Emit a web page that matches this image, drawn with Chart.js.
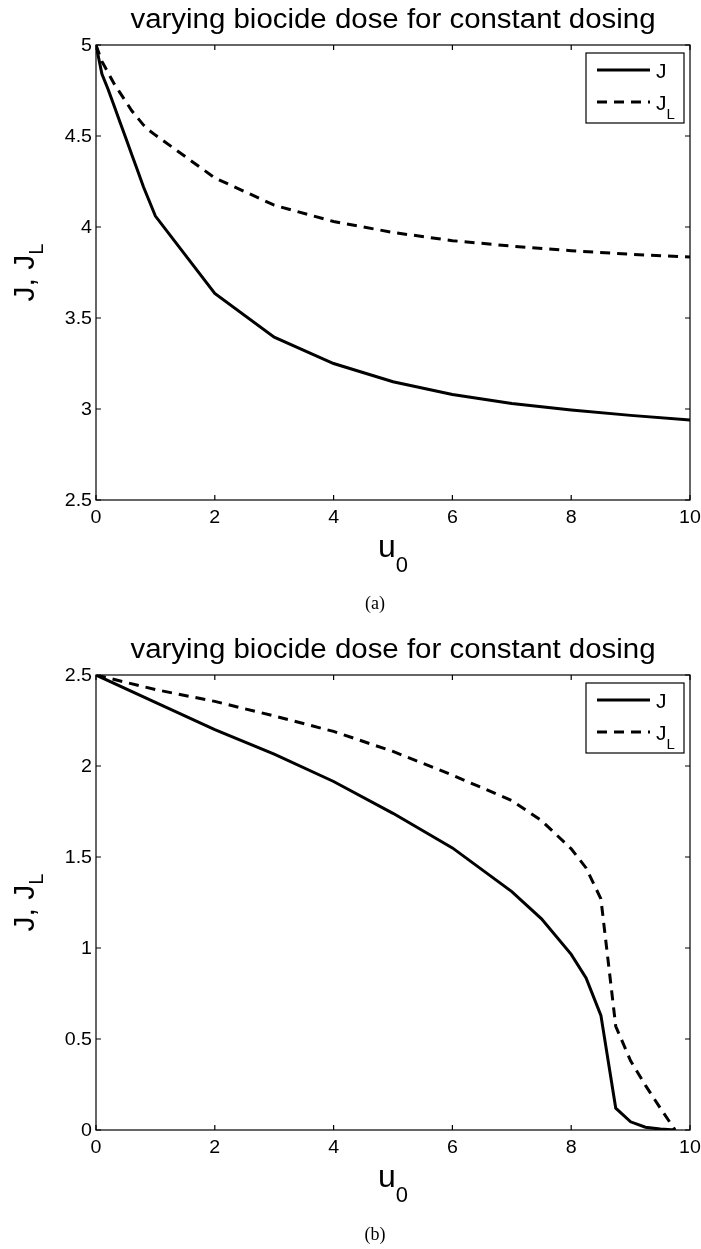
<!DOCTYPE html>
<html>
<head>
<meta charset="utf-8">
<script src="https://cdn.jsdelivr.net/npm/chart.js@4.4.0/dist/chart.umd.min.js"></script>
<style>
  body { margin: 0; background: #fff; width: 701px; height: 1249px; position: relative; overflow: hidden; }
  .panel { position: absolute; left: 0; width: 701px; }
  .cap { position: absolute; left: 0; width: 750px; text-align: center;
         font-family: "Liberation Serif", "DejaVu Serif", serif; font-size: 18px; color: #000; }
</style>
</head>
<body>
<div class="panel" style="top:0"><canvas id="chartA" width="701" height="630"></canvas></div>
<div class="panel" style="top:630px"><canvas id="chartB" width="701" height="619"></canvas></div>
<div class="cap" style="top:593px">(a)</div>
<div class="cap" style="top:1224px">(b)</div>
<script>
// panel (a): J and J_L against the dose u0
const doseA = [0, 0.1, 0.2, 0.3, 0.4, 0.5, 0.6, 0.7, 0.8, 0.9, 1, 2, 3, 4, 5, 6, 7, 8, 9, 10];
const jA    = [5.0, 4.84, 4.76, 4.67, 4.58, 4.49, 4.40, 4.31, 4.22, 4.14, 4.06, 3.635, 3.395, 3.25, 3.15, 3.08, 3.03, 2.995, 2.965, 2.94];
const jLA   = [5.0, 4.91, 4.85, 4.79, 4.74, 4.69, 4.64, 4.60, 4.56, 4.53, 4.505, 4.27, 4.12, 4.03, 3.97, 3.925, 3.895, 3.87, 3.85, 3.835];

// panel (b)
const doseB = [0, 1, 2, 3, 4, 5, 6, 7, 7.5, 8, 8.25, 8.5, 8.75, 9, 9.25, 9.5, 9.75];
const jB    = [2.5, 2.35, 2.20, 2.065, 1.915, 1.74, 1.55, 1.31, 1.16, 0.965, 0.835, 0.63, 0.12, 0.045, 0.015, 0.005, 0.0];
const jLB   = [2.5, 2.42, 2.355, 2.275, 2.19, 2.08, 1.95, 1.81, 1.70, 1.545, 1.44, 1.27, 0.57, 0.38, 0.245, 0.12, 0.0];

const titleText = 'varying biocide dose for constant dosing';
const xTicks = [0, 2, 4, 6, 8, 10];
const yTicksA = [2.5, 3, 3.5, 4, 4.5, 5];
const yTicksB = [0, 0.5, 1, 1.5, 2, 2.5];

const FONT = '"Liberation Sans", Arial, sans-serif';
const WIDE = 1.09;   // figure text is a little wider than it is tall

function toPoints(xs, ys) {
    return xs.map((x, i) => ({ x: x, y: ys[i] }));
}

function wideText(ctx, text, x, y, size, align) {
    ctx.save();
    ctx.translate(x, y);
    ctx.scale(WIDE, 1);
    ctx.font = size + 'px ' + FONT;
    ctx.textAlign = align;
    ctx.textBaseline = 'alphabetic';
    ctx.fillText(text, 0, 0);
    ctx.restore();
}

// text with a subscript, centred on (cx, baseline)
function drawSub(ctx, base, sub, cx, baseline, size, subSize, drop) {
    ctx.font = size + 'px ' + FONT;
    const w1 = ctx.measureText(base).width;
    ctx.font = subSize + 'px ' + FONT;
    const w2 = ctx.measureText(sub).width;
    let x = cx - (w1 + w2) / 2;
    ctx.textAlign = 'left';
    ctx.textBaseline = 'alphabetic';
    ctx.font = size + 'px ' + FONT;
    ctx.fillText(base, x, baseline);
    ctx.font = subSize + 'px ' + FONT;
    ctx.fillText(sub, x + w1, baseline + drop);
}

// box, inward ticks on all sides, tick labels, title, axis labels and legend
const framePlugin = {
    id: 'frame',
    afterDatasetsDraw(chart) {
        const ctx = chart.ctx;
        const a = chart.chartArea;
        const x = chart.scales.x, y = chart.scales.y;
        ctx.save();
        ctx.strokeStyle = '#000';
        ctx.fillStyle = '#000';
        ctx.lineWidth = 1.2;
        ctx.strokeRect(a.left, a.top, a.right - a.left, a.bottom - a.top);

        ctx.beginPath();
        x.ticks.forEach(t => {
            const px = x.getPixelForValue(t.value);
            ctx.moveTo(px, a.bottom); ctx.lineTo(px, a.bottom - 5);
            ctx.moveTo(px, a.top); ctx.lineTo(px, a.top + 5);
        });
        y.ticks.forEach(t => {
            const py = y.getPixelForValue(t.value);
            ctx.moveTo(a.left, py); ctx.lineTo(a.left + 5, py);
            ctx.moveTo(a.right, py); ctx.lineTo(a.right - 5, py);
        });
        ctx.stroke();

        x.ticks.forEach(t => {
            wideText(ctx, String(t.value), x.getPixelForValue(t.value), a.bottom + 23, 18, 'center');
        });
        y.ticks.forEach(t => {
            wideText(ctx, String(t.value), a.left - 4, y.getPixelForValue(t.value) + 6, 18, 'right');
        });

        const cx = (a.left + a.right) / 2;
        wideText(ctx, titleText, cx, 28, 27, 'center');

        drawSub(ctx, 'u', '0', cx, 557, 32, 22, 15);

        ctx.save();
        ctx.translate(34, (a.top + a.bottom) / 2);
        ctx.rotate(-Math.PI / 2);
        drawSub(ctx, 'J, J', 'L', 0, 0, 30, 20, 9);
        ctx.restore();

        // legend
        const lx = 586, lw = 98, ly = a.top + 8, lh = 70;
        ctx.fillStyle = '#fff';
        ctx.fillRect(lx, ly, lw, lh);
        ctx.fillStyle = '#000';
        ctx.lineWidth = 1.2;
        ctx.strokeRect(lx, ly, lw, lh);
        chart.data.datasets.forEach((ds, i) => {
            const ey = ly + 17 + i * 32;
            ctx.save();
            ctx.lineWidth = ds.borderWidth;
            ctx.setLineDash(ds.borderDash || []);
            ctx.beginPath();
            ctx.moveTo(lx + 11, ey);
            ctx.lineTo(lx + 64, ey);
            ctx.stroke();
            ctx.restore();
            ctx.font = '21px ' + FONT;
            ctx.textAlign = 'left';
            ctx.fillText(ds.label, lx + 70, ey + 8);
            if (ds.subLabel) {
                const w = ctx.measureText(ds.label).width;
                ctx.font = '15px ' + FONT;
                ctx.fillText(ds.subLabel, lx + 70 + w, ey + 17);
            }
        });
        ctx.restore();
    }
};

function createChart(id, dose, jVals, jLVals, yMin, yMax, yTicks) {
    const canvas = document.getElementById(id);
    const H = canvas.height;
    return new Chart(canvas.getContext('2d'), {
        type: 'line',
        data: {
            datasets: [
                {
                    label: 'J',
                    data: toPoints(dose, jVals),
                    borderColor: '#000',
                    borderWidth: 3,
                    pointRadius: 0,
                    fill: false,
                    tension: 0
                },
                {
                    label: 'J',
                    subLabel: 'L',
                    data: toPoints(dose, jLVals),
                    borderColor: '#000',
                    borderWidth: 3,
                    borderDash: [10, 7],
                    pointRadius: 0,
                    fill: false,
                    tension: 0
                }
            ]
        },
        options: {
            responsive: false,
            animation: false,
            devicePixelRatio: 1,
            layout: { padding: { top: 45, right: 11, left: 0, bottom: 0 } },
            plugins: {
                legend: { display: false },
                tooltip: { enabled: false }
            },
            scales: {
                x: {
                    type: 'linear',
                    min: 0,
                    max: 10,
                    afterBuildTicks: s => { s.ticks = xTicks.map(v => ({ value: v })); },
                    afterFit: s => { s.height = H - 500; s.paddingLeft = 0; s.paddingRight = 0; },
                    grid: { display: false },
                    border: { display: false },
                    ticks: { display: false }
                },
                y: {
                    type: 'linear',
                    min: yMin,
                    max: yMax,
                    afterBuildTicks: s => { s.ticks = yTicks.map(v => ({ value: v })); },
                    afterFit: s => { s.width = 96; s.paddingTop = 0; s.paddingBottom = 0; },
                    grid: { display: false },
                    border: { display: false },
                    ticks: { display: false }
                }
            }
        },
        plugins: [framePlugin]
    });
}

createChart('chartA', doseA, jA, jLA, 2.5, 5, yTicksA);
createChart('chartB', doseB, jB, jLB, 0, 2.5, yTicksB);
</script>
</body>
</html>
